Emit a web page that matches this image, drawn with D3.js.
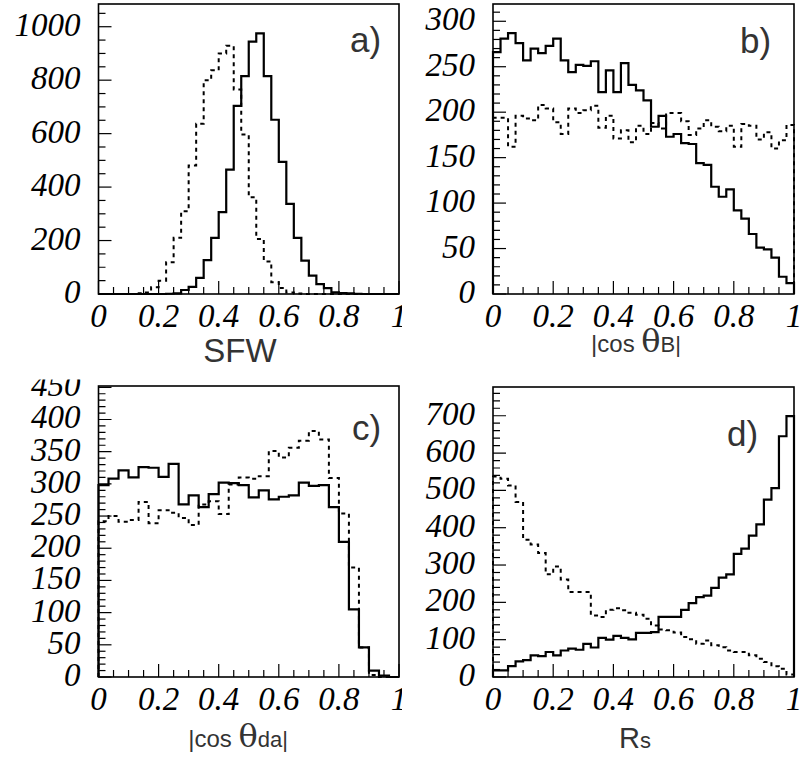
<!DOCTYPE html>
<html><head><meta charset="utf-8">
<script src="https://cdn.jsdelivr.net/npm/d3@7/dist/d3.min.js"></script>
<style>body{margin:0;background:#fff}svg{display:block}</style>
</head><body>
<svg id="chart" width="804" height="759"></svg>
<script>
// Panel a) SFW, 40 bins on [0,1]
const sfwSolid = [0,0,0,0,0,0,0,0,0,1,2,15,27,60,127,210,306,465,704,815,944,975,815,652,494,337,210,125,69,37,22,6,3,2,1,0,0,0,0,0];
const sfwDash  = [0,0,0,0,0,3,6,25,50,119,210,310,481,637,800,837,900,929,765,597,362,206,122,44,22,6,2,0,0,0,0,0,0,0,0,0,0,0,0,0];
// Panel b) |cos thetaB|, 40 bins
const cosBSolid = [266,281,287,276,257,270,265,273,281,257,244,252,251,256,222,246,222,254,230,224,213,184,196,173,176,166,165,144,142,118,107,115,92,83,66,51,49,40,19,12];
const cosBDash  = [194,194,162,196,193,191,208,204,189,176,204,199,202,207,183,196,171,180,167,185,176,188,182,199,199,190,175,182,191,184,179,185,162,187,185,170,178,160,169,186];
// Panel c) |cos theta_da|, 30 bins
const cosDaSolid = [298,308,321,310,326,325,311,331,268,282,264,284,302,301,298,279,290,276,280,282,302,297,298,264,210,105,46,10,2,0];
const cosDaDash  = [242,250,241,244,272,239,259,255,247,236,268,273,253,299,310,308,312,351,341,356,367,382,369,309,254,170,46,3,0,0];
// Panel d) Rs, 40 bins
const rsSolid = [18,18,29,42,45,58,56,67,58,71,76,73,89,79,105,100,110,105,101,118,118,120,161,161,161,180,198,214,218,239,266,275,330,344,379,409,475,506,645,699];
const rsDash  = [537,531,513,469,368,355,332,275,296,261,228,228,228,165,161,180,184,179,172,167,156,138,127,125,119,107,101,89,98,85,80,71,67,67,58,49,40,29,22,7];

const xTickLabels = ["0","0.2","0.4","0.6","0.8","1"];

const panels = [
  {label:"a)", solid:sfwSolid, dash:sfwDash, ymax:1085, major:200, minor:50,
   box:[98.5,399,4,294], clip:[0,0,402,379.5], lx:350, ly:52,
   title:[{t:"SFW", s:33}], tx:240, ty:362},
  {label:"b)", solid:cosBSolid, dash:cosBDash, ymax:319, major:50, minor:10,
   box:[493,794,4,294], clip:[402,0,402,379.5], lx:740, ly:53,
   title:[{t:"|cos ", s:24},{t:"θ", s:32, f:"DejaVu Serif"},{t:"B|", s:22}], tx:636, ty:352},
  {label:"c)", solid:cosDaSolid, dash:cosDaDash, ymax:452, major:50, minor:10,
   box:[98.5,399,386,677], clip:[0,379.5,402,379.5], lx:352, ly:440,
   title:[{t:"|cos ", s:24},{t:"θ", s:32, f:"DejaVu Serif"},{t:"da|", s:22}], tx:238, ty:747},
  {label:"d)", solid:rsSolid, dash:rsDash, ymax:777, major:100, minor:20,
   box:[493,794,387,677], clip:[402,379.5,402,379.5], lx:727, ly:446,
   title:[{t:"R", s:29},{t:"s", s:22}], tx:635, ty:748}
];

const svg = d3.select("#chart");
const defs = svg.append("defs");

panels.forEach((p, pi) => {
  const [x0,x1,y0,y1] = p.box;
  defs.append("clipPath").attr("id","pad"+pi)
    .append("rect").attr("x",p.clip[0]).attr("y",p.clip[1]).attr("width",p.clip[2]).attr("height",p.clip[3]);
  const g = svg.append("g").attr("clip-path","url(#pad"+pi+")");
  const x = d3.scaleLinear().domain([0,1]).range([x0,x1]);
  const y = d3.scaleLinear().domain([0,p.ymax]).range([y1,y0]);

  // histograms
  const stepPts = vals => {
    const n = vals.length, pts = [[x(0), y(0)]];
    vals.forEach((v,i) => { pts.push([x(i/n), y(v)]); pts.push([x((i+1)/n), y(v)]); });
    pts.push([x(1), y(0)]);
    return pts;
  };
  const line = d3.line();
  g.append("path").attr("d", line(stepPts(p.dash))).attr("fill","none")
    .attr("stroke","#000").attr("stroke-width",2).attr("stroke-dasharray","4,4");
  g.append("path").attr("d", line(stepPts(p.solid))).attr("fill","none")
    .attr("stroke","#000").attr("stroke-width",2.2);

  // frame
  g.append("rect").attr("x",x0).attr("y",y0).attr("width",x1-x0).attr("height",y1-y0)
    .attr("fill","none").attr("stroke","#000").attr("stroke-width",1.6);

  // y ticks
  const nMinor = Math.floor(p.ymax/p.minor + 1e-9);
  const ratio = Math.round(p.major/p.minor);
  d3.range(0, nMinor+1).forEach(k => {
    const v = k*p.minor, isMaj = k % ratio === 0;
    g.append("line").attr("x1",x0).attr("x2",x0+(isMaj?13:7))
      .attr("y1",y(v)).attr("y2",y(v)).attr("stroke","#000").attr("stroke-width",1.2);
    if (isMaj) {
      g.append("text").attr("x",x0-18).attr("y",y(v)+9)
        .attr("text-anchor","end").attr("font-family","Liberation Serif")
        .attr("font-style","italic").attr("font-size",33).attr("fill","#000").text(String(v));
    }
  });
  // x ticks
  d3.range(0, 21).forEach(k => {
    const v = k*0.05, isMaj = k % 4 === 0;
    g.append("line").attr("x1",x(v)).attr("x2",x(v))
      .attr("y1",y1).attr("y2",y1-(isMaj?13:7)).attr("stroke","#000").attr("stroke-width",1.2);
  });
  xTickLabels.forEach((t,i) => {
    g.append("text").attr("x",x(i*0.2)).attr("y",y1+33).attr("text-anchor","middle")
      .attr("font-family","Liberation Serif").attr("font-style","italic")
      .attr("font-size",33).attr("fill","#000").text(t);
  });

  // panel label
  g.append("text").attr("x",p.lx).attr("y",p.ly).attr("font-family","Liberation Sans")
    .attr("font-size",35).attr("fill","#333").text(p.label);

  // axis title
  const tt = g.append("text").attr("x",p.tx).attr("y",p.ty).attr("text-anchor","middle")
    .attr("font-family","Liberation Sans").attr("fill","#333");
  p.title.forEach(part => {
    tt.append("tspan").attr("font-size",part.s)
      .attr("font-family", part.f || "Liberation Sans").text(part.t);
  });
});
</script>
</body></html>
